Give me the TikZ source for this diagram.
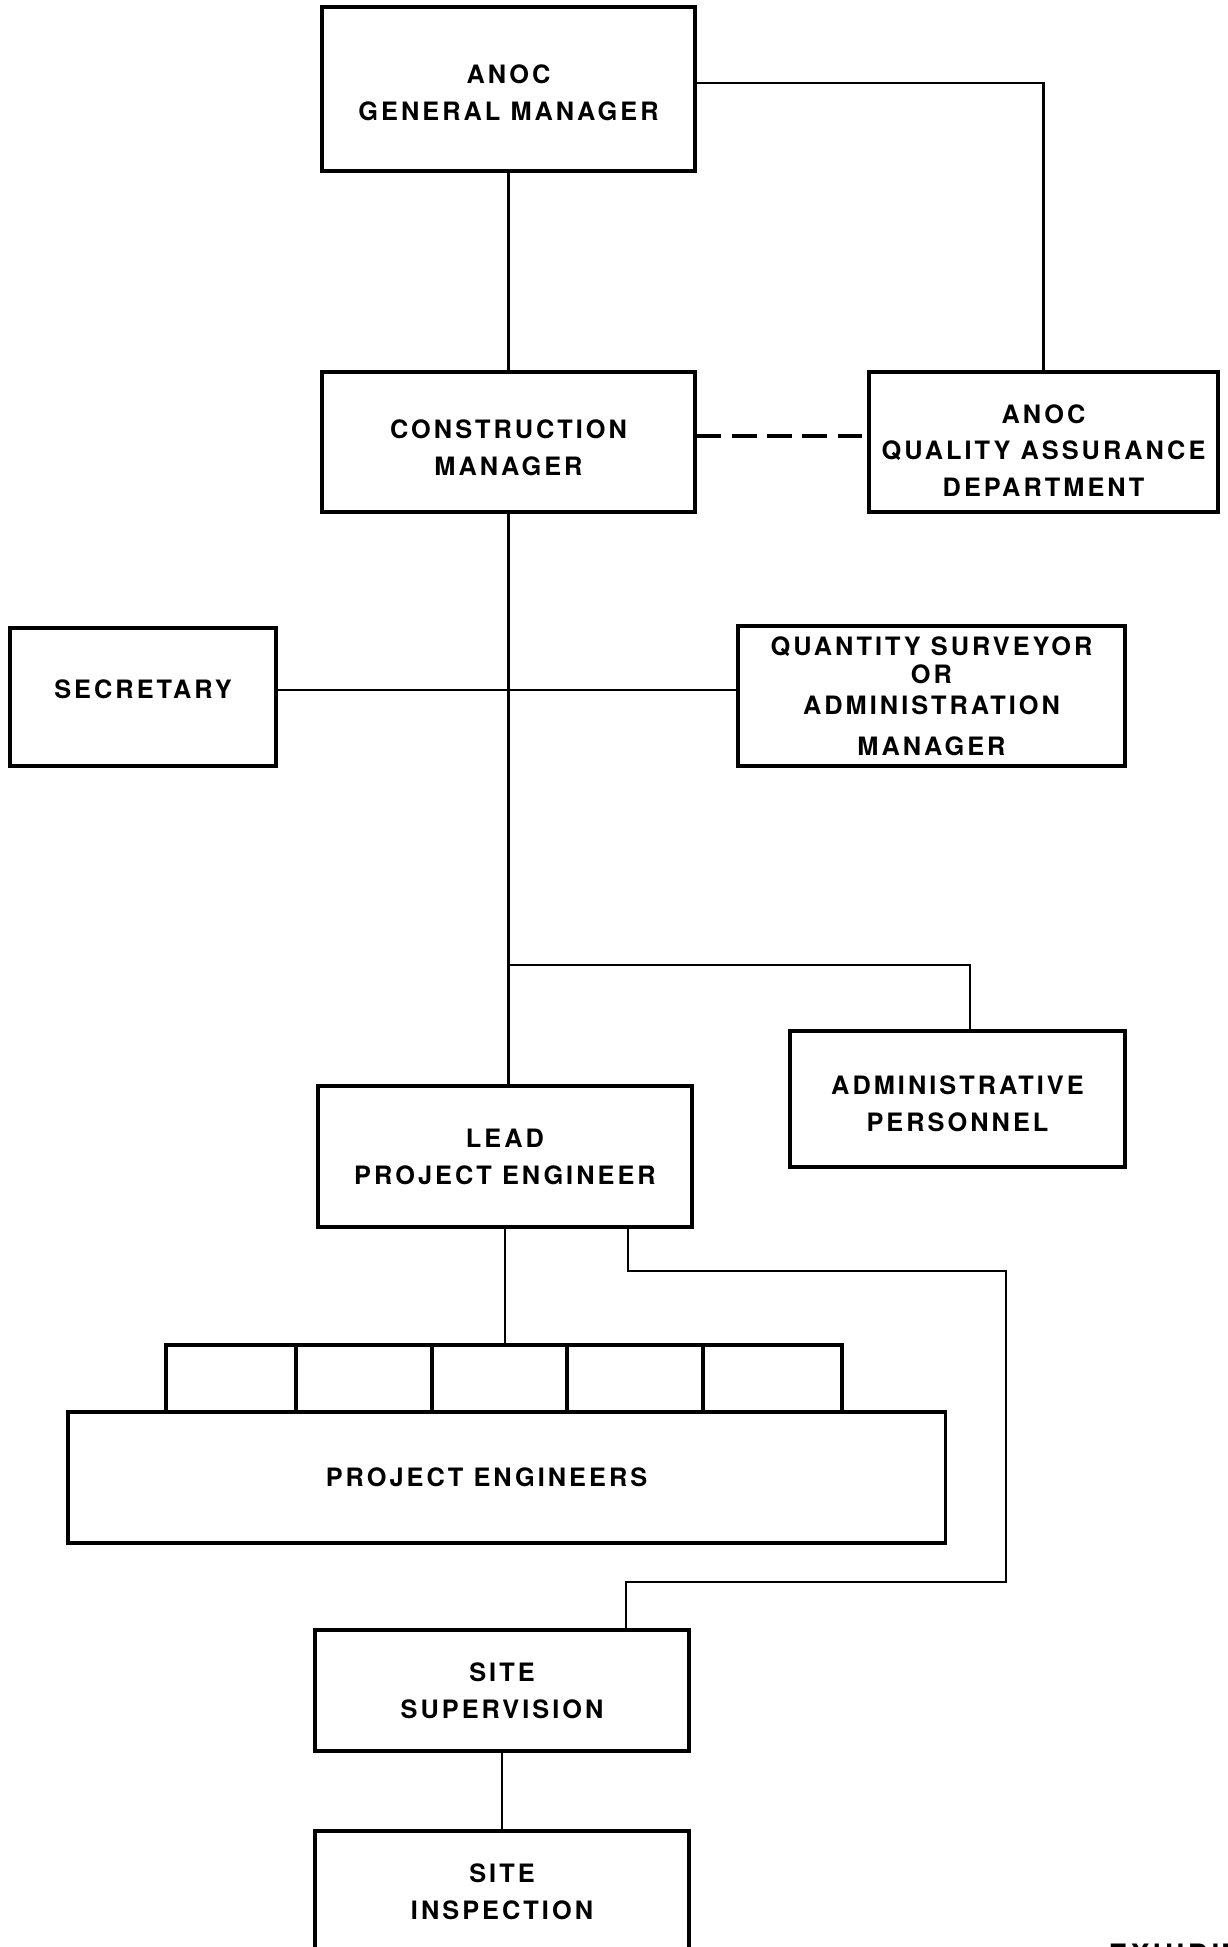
\documentclass[tikz,border=0pt]{standalone}
\usepackage{fontspec}
\setmainfont{TeX Gyre Heros}[LetterSpace=12]
\usetikzlibrary{calc}
% text block moved up or down inside its box
\newcommand{\boxtext}[2]{\raisebox{#1}[\height][\depth]{\begin{tabular}{@{}c@{}}#2\end{tabular}}}
\begin{document}
\begin{tikzpicture}[x=0.01cm,y=-0.01cm,font=\fontsize{7.2pt}{10.5pt}\selectfont\bfseries,
  box/.style={draw, line width=1pt, align=center, inner sep=0pt},
  link/.style={line width=0.6pt}]
\useasboundingbox (0,0) rectangle (1228,1947);
\node[box, minimum width=3.73cm, minimum height=1.64cm](gm) at (508.5,89) {\boxtext{-1.5pt}{ANOC\\GENERAL MANAGER}};
\node[box, minimum width=3.73cm, minimum height=1.40cm](cm) at (508.5,442) {\boxtext{-2.2pt}{CONSTRUCTION\\MANAGER}};
\node[box, minimum width=3.49cm, minimum height=1.40cm](qa) at (1043.5,442) {\boxtext{-3pt}{ANOC\\QUALITY ASSURANCE\\DEPARTMENT}};
\node[box, minimum width=2.66cm, minimum height=1.38cm](sec) at (143,697) {\raisebox{2.1pt}[\height][\depth]{SECRETARY}};
\node[box, minimum width=3.87cm, minimum height=1.40cm](qs) at (931.5,696) {QUANTITY SURVEYOR\\[-2.5pt]OR\\[-1.5pt]ADMINISTRATION\\[1pt]MANAGER};
\node[box, minimum width=3.35cm, minimum height=1.36cm](ap) at (957.5,1099) {\boxtext{-1.9pt}{ADMINISTRATIVE\\PERSONNEL}};
\node[box, minimum width=3.74cm, minimum height=1.41cm](lpe) at (505,1156.5) {LEAD\\PROJECT ENGINEER};
\foreach \x/\w [count=\i] in {231/130, 364/136, 499.5/135, 635/136, 772.5/139}
  \node[box, minimum width=\w*0.01cm, minimum height=0.67cm](pe\i) at (\x,1378.5) {};
\node[box, minimum width=8.77cm, minimum height=1.31cm](pe) at (506.5,1477.5) {PROJECT ENGINEERS\hspace*{0.4cm}};
\node[box, minimum width=3.74cm, minimum height=1.21cm](ss) at (502,1690.5) {SITE\\SUPERVISION};
\node[box, minimum width=3.74cm, minimum height=1.21cm](si) at (502,1891.5) {SITE\\INSPECTION};
\node[anchor=north west, inner sep=0pt, font=\fontsize{8pt}{10pt}\selectfont\bfseries](exh) at (1108,1943) {EXHIBIT};
% connectors
\draw[link] (gm.south) -- (cm.north);
\draw[link] ($(gm.east)+(0,-6)$) -| (qa.north);
\draw[link, line width=1pt, dash pattern=on 7pt off 3pt] ($(cm.east)+(0,-6)$) -- ($(qa.west)+(0,-6)$);
\draw[link] (cm.south) -- (cm.south |- lpe.north);
\draw[link] ($(sec.east)+(0,-7)$) -- ($(qs.west)+(0,-6)$);
\coordinate (apjoin) at (509,965);
\draw[link] (apjoin) -| ($(ap.north)+(12.5,0)$);
\draw[link] (lpe.south) -- (lpe.south |- pe3.north);
\draw[link] ($(lpe.south)+(123,0)$) -- ++(0,42) -| (1006,1582) -| ($(ss.north)+(124,0)$);
\draw[link] (ss.south) -- (si.north);
\end{tikzpicture}
\end{document}
